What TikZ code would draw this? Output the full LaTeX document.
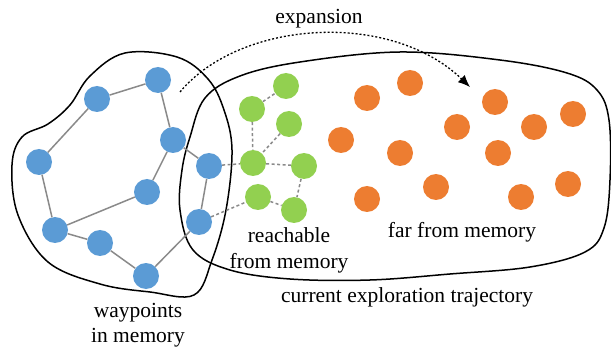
\documentclass[tikz,border=0pt]{standalone}
\usepackage{fontspec}
\setmainfont{Liberation Serif}
\newfontfamily\figfont{Liberation Serif}
\usetikzlibrary{arrows.meta}
\definecolor{wpblue}{HTML}{5B9BD5}
\definecolor{rgreen}{HTML}{92D050}
\definecolor{forange}{HTML}{ED7D31}
\definecolor{edgegray}{HTML}{8A8A8A}
\tikzset{
  dot/.style={circle, minimum size=26pt, inner sep=0pt, draw=none},
  bnode/.style={dot, fill=wpblue},
  gnode/.style={dot, fill=rgreen},
  onode/.style={dot, fill=forange},
  solidedge/.style={draw=edgegray, line width=1.5pt},
  dashedge/.style={draw=edgegray, line width=1.5pt, dash pattern=on 3pt off 2.5pt},
  blob/.style={draw=black, line width=1.5pt},
  lbl/.style={font=\figfont\fontsize{21.5}{25}\selectfont, text=black, inner sep=0pt, anchor=base},
}
\begin{document}
\begin{tikzpicture}[x=1pt, y=-1pt]
\useasboundingbox (0,0) rectangle (611,350);
% blobs
\draw[blob] plot[smooth cycle, tension=0.6] coordinates {
 (12,165) (22,137) (48,124) (70,105) (90,76) (125,53) (177,57) (208,79)
 (224,110) (232,150) (226,210) (212,260) (194,295) (150,292) (100,284)
 (48,262) (18,215)};
\draw[blob] plot[smooth cycle, tension=0.6] coordinates {
 (190,137) (205,98) (240,76) (300,62) (400,52) (500,60) (567,73) (597,90)
 (609,120) (610,180) (604,228) (585,252) (530,267) (450,274) (370,280)
 (290,279) (230,270) (193,250) (180,210) (182,170)};
% blue nodes
\node[bnode] (b1) at (158,80) {};
\node[bnode] (b2) at (97,99) {};
\node[bnode] (b3) at (173,140) {};
\node[bnode] (b4) at (39,162) {};
\node[bnode] (b5) at (209,166) {};
\node[bnode] (b6) at (147,192) {};
\node[bnode] (b7) at (199,222) {};
\node[bnode] (b8) at (55,230) {};
\node[bnode] (b9) at (100,243) {};
\node[bnode] (b10) at (146,276) {};
% green nodes
\node[gnode] (g1) at (286,86) {};
\node[gnode] (g2) at (252,109) {};
\node[gnode] (g3) at (289,124) {};
\node[gnode] (g4) at (253,163) {};
\node[gnode] (g5) at (304,166) {};
\node[gnode] (g6) at (258,197) {};
\node[gnode] (g7) at (294,210) {};
% orange nodes
\node[onode] (o1) at (367,98) {};
\node[onode] (o2) at (410,83) {};
\node[onode] (o3) at (341,140) {};
\node[onode] (o4) at (400,153) {};
\node[onode] (o5) at (367,199) {};
\node[onode] (o6) at (436,187) {};
\node[onode] (o7) at (457,127) {};
\node[onode] (o8) at (495,102) {};
\node[onode] (o9) at (498,153) {};
\node[onode] (o10) at (534,127) {};
\node[onode] (o11) at (573,114) {};
\node[onode] (o12) at (521,197) {};
\node[onode] (o13) at (568,184) {};
% blue edges
\path[solidedge] (b1) -- (b2) (b1) -- (b3) (b2) -- (b4) (b3) -- (b6)
  (b3) -- (b5) (b4) -- (b8) (b6) -- (b8) (b8) -- (b9) (b9) -- (b10)
  (b10) -- (b7) (b5) -- (b7);
% green edges
\path[dashedge] (g2) -- (g1) (g2) -- (g4) (g3) -- (g4) (g4) -- (g5)
  (g5) -- (g7) (g6) -- (g7) (b5) -- (g4) (b7) -- (g6);
% expansion arrow
\coordinate (es) at (180,92);
\coordinate (ee) at (470,87);
\draw[line width=1.3pt, dash pattern=on 2pt off 2pt, -{Latex[length=12pt,width=10pt]}]
  (es) .. controls (240,20) and (390,10) .. (ee);
% labels
\node[lbl] (texp) at (319,24) {expansion};
\node[lbl] (tw1) at (138,317) {waypoints};
\node[lbl] (tw2) at (138,342) {in memory};
\node[lbl] (tr1) at (289,243) {reachable};
\node[lbl] (tr2) at (289,268) {from memory};
\node[lbl] (tf) at (462,237) {far from memory};
\node[lbl] (tc) at (407,302) {current exploration trajectory};
\end{tikzpicture}
\end{document}
